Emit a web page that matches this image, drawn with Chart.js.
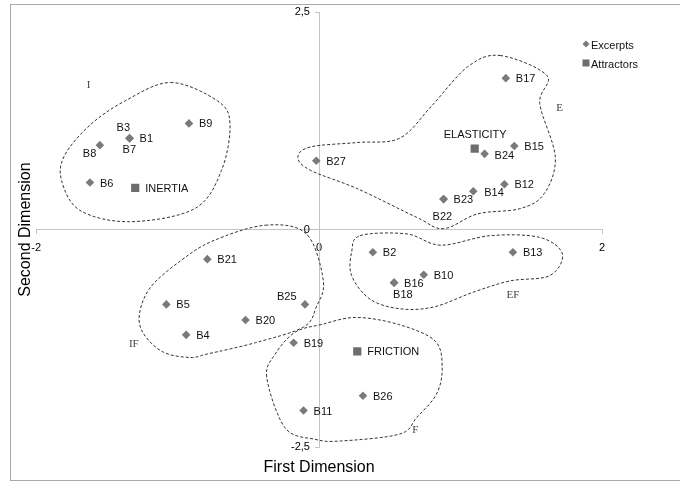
<!DOCTYPE html>
<html>
<head>
<meta charset="utf-8">
<script src="https://cdn.jsdelivr.net/npm/chart.js@4"></script>
<style>
  html, body { margin: 0; padding: 0; background: #fff; }
</style>
</head>
<body>
<canvas id="grafico" width="680" height="483"></canvas>
<script>
// Excerpts B1..B27 (coordenadas en las dos dimensiones)
var excerptNames = ["B1","B2","B3","B4","B5","B6","B7","B8","B9","B10","B11","B12","B13","B14",
                    "B15","B16","B17","B18","B19","B20","B21","B22","B23","B24","B25","B26","B27"];
var excerptX = [-1.34, 0.38, -1.34, -0.94, -1.08, -1.62, -1.34, -1.55, -0.92, 0.74, -0.11, 1.31, 1.37, 1.09,
                1.38, 0.53, 1.32, 0.53, -0.18, -0.52, -0.79, 0.88, 0.88, 1.17, -0.10, 0.31, -0.02];
var excerptY = [1.05, -0.26, 1.05, -1.21, -0.86, 0.54, 1.05, 0.97, 1.22, -0.52, -2.08, 0.52, -0.26, 0.44,
                0.96, -0.61, 1.74, -0.61, -1.30, -1.04, -0.34, 0.35, 0.35, 0.87, -0.86, -1.91, 0.79];

// Attractors
var attractorNames = ["INERTIA", "ELASTICITY", "FRICTION"];
var attractorX = [-1.30, 1.10, 0.27];
var attractorY = [0.48, 0.93, -1.40];

// Ticks de los ejes
var xTicks = [-2, 0, 2];
var yTicks = [-2.5, 0, 2.5];

// Grupos (contornos punteados), en unidades de los ejes
var groupNames = ["I", "E", "EF", "IF", "F"];
var groupOutlines = {
  I: [[-1.05, 1.69], [-0.72, 1.48], [-0.63, 1.22], [-0.69, 0.68], [-0.88, 0.24], [-1.34, 0.09],
      [-1.69, 0.22], [-1.82, 0.56], [-1.80, 0.85], [-1.62, 1.20], [-1.37, 1.48]],
  E: [[1.28, 2.00], [1.61, 1.77], [1.56, 1.45], [1.67, 0.83], [1.59, 0.41], [1.42, 0.24], [1.12, 0.18],
      [0.88, 0.01], [0.69, 0.14], [0.27, 0.47], [-0.06, 0.68], [-0.15, 0.83], [-0.06, 0.95],
      [0.27, 1.00], [0.57, 1.05], [0.79, 1.41], [1.05, 1.87]],
  EF: [[0.29, -0.07], [0.62, -0.05], [0.86, -0.18], [1.21, -0.07], [1.56, -0.09], [1.72, -0.28],
       [1.63, -0.53], [1.35, -0.59], [1.09, -0.72], [0.81, -0.89], [0.57, -0.91], [0.36, -0.80],
       [0.23, -0.53], [0.23, -0.26]],
  IF: [[-0.38, 0.05], [-0.09, -0.05], [0.03, -0.59], [-0.02, -0.89], [-0.11, -1.12], [-0.45, -1.30],
       [-0.79, -1.43], [-0.91, -1.47], [-1.10, -1.41], [-1.24, -1.20], [-1.27, -0.97], [-1.19, -0.66],
       [-0.98, -0.36], [-0.75, -0.13]],
  F: [[-0.17, -1.18], [0.02, -1.09], [0.26, -1.01], [0.56, -1.09], [0.82, -1.28], [0.87, -1.59],
      [0.83, -1.89], [0.69, -2.16], [0.57, -2.35], [0.15, -2.43], [-0.03, -2.41], [-0.24, -2.28],
      [-0.37, -1.70], [-0.31, -1.43]]
};
var groupLabelAt = { I: [-1.63, 1.66], E: [1.70, 1.39], EF: [1.37, -0.75], IF: [-1.31, -1.32], F: [0.68, -2.30] };

// Desplazamiento (px) de las etiquetas respecto al punto
var labelOffsets = {
  B3: [-13, -10], B7: [-7, 12], B8: [-17, 9], B22: [-11, 18], B18: [-1, 12],
  B25: [-28, -7], ELASTICITY: [-31, -14], B14: [11, 2], B24: [10, 2]
};

var fuente = '"Liberation Sans", Arial, sans-serif';
var colorExcerpt = '#7a7a7a';
var colorAttractor = '#6d6d6d';
var colorEje = '#c4c4c4';

Chart.defaults.font.family = fuente;

function puntos(xs, ys) {
  return xs.map(function(x, i) { return {x: x, y: ys[i]}; });
}
function coma(v) { return String(v).replace('.', ','); }

// Marco exterior
var pluginMarco = {
  id: 'marco',
  beforeDraw: function(chart) {
    var ctx = chart.ctx;
    ctx.save();
    ctx.strokeStyle = '#a9a9a9';
    ctx.lineWidth = 1;
    ctx.strokeRect(10.5, 4.5, 680, 476);
    ctx.restore();
  }
};

// Contornos de los grupos (curva cerrada suave) y letras
var pluginContornos = {
  id: 'contornos',
  beforeDatasetsDraw: function(chart) {
    var sx = chart.scales.x, sy = chart.scales.y, ctx = chart.ctx;
    ctx.save();
    ctx.setLineDash([3, 2]);
    ctx.strokeStyle = '#333';
    ctx.lineWidth = 1;
    groupNames.forEach(function(g) {
      var pts = groupOutlines[g].map(function(p) {
        return [sx.getPixelForValue(p[0]), sy.getPixelForValue(p[1])];
      });
      var n = pts.length;
      ctx.beginPath();
      ctx.moveTo(pts[0][0], pts[0][1]);
      for (var i = 0; i < n; i++) {
        var p0 = pts[(i - 1 + n) % n], p1 = pts[i], p2 = pts[(i + 1) % n], p3 = pts[(i + 2) % n];
        ctx.bezierCurveTo(p1[0] + (p2[0] - p0[0]) / 6, p1[1] + (p2[1] - p0[1]) / 6,
                          p2[0] - (p3[0] - p1[0]) / 6, p2[1] - (p3[1] - p1[1]) / 6,
                          p2[0], p2[1]);
      }
      ctx.closePath();
      ctx.stroke();
    });
    ctx.setLineDash([]);
    ctx.font = '11px "Liberation Serif", "Times New Roman", serif';
    ctx.fillStyle = '#444';
    ctx.textAlign = 'center';
    ctx.textBaseline = 'middle';
    groupNames.forEach(function(g) {
      var p = groupLabelAt[g];
      ctx.fillText(g, sx.getPixelForValue(p[0]), sy.getPixelForValue(p[1]));
    });
    ctx.restore();
  }
};

// Etiquetas de cada punto
var pluginEtiquetas = {
  id: 'etiquetas',
  afterDatasetsDraw: function(chart) {
    var ctx = chart.ctx;
    var nombres = [excerptNames, attractorNames];
    ctx.save();
    ctx.font = '11px ' + fuente;
    ctx.fillStyle = '#111';
    ctx.textAlign = 'left';
    ctx.textBaseline = 'middle';
    chart.data.datasets.forEach(function(ds, i) {
      var meta = chart.getDatasetMeta(i);
      meta.data.forEach(function(el, j) {
        var nom = nombres[i][j];
        var off = labelOffsets[nom] || [10, 1];
        ctx.fillText(nom, el.x + off[0], el.y + off[1]);
      });
    });
    ctx.restore();
  }
};

// Leyenda arriba a la derecha
var pluginLeyenda = {
  id: 'leyenda',
  afterDraw: function(chart) {
    var ctx = chart.ctx, area = chart.chartArea;
    var x = area.right - 16, y = area.top + 32;
    ctx.save();
    ctx.font = '11px ' + fuente;
    ctx.textAlign = 'left';
    ctx.textBaseline = 'middle';
    chart.data.datasets.forEach(function(ds, i) {
      var cy = y + i * 19;
      ctx.fillStyle = ds.backgroundColor;
      if (ds.pointStyle === 'rectRot') {
        ctx.beginPath();
        ctx.moveTo(x, cy - 3.5); ctx.lineTo(x + 3.5, cy); ctx.lineTo(x, cy + 3.5); ctx.lineTo(x - 3.5, cy);
        ctx.closePath();
        ctx.fill();
      } else {
        ctx.fillRect(x - 3.5, cy - 3.5, 7, 7);
      }
      ctx.fillStyle = '#111';
      ctx.fillText(ds.label, x + 5, cy + 1.5);
    });
    ctx.restore();
  }
};

var ejeComun = {
  type: 'linear',
  grid: { display: true, drawOnChartArea: false, drawTicks: true, tickLength: 4, color: colorEje },
  border: { display: true, color: colorEje, width: 1 },
  ticks: { font: { size: 11 }, color: '#000', maxRotation: 0 }
};

new Chart(document.getElementById('grafico'), {
  type: 'scatter',
  data: {
    datasets: [{
      label: 'Excerpts',
      data: puntos(excerptX, excerptY),
      pointStyle: 'rectRot',
      pointRadius: 4.3,
      backgroundColor: colorExcerpt,
      borderColor: colorExcerpt,
      borderWidth: 0
    }, {
      label: 'Attractors',
      data: puntos(attractorX, attractorY),
      pointStyle: 'rect',
      pointRadius: 5.8,
      backgroundColor: colorAttractor,
      borderColor: colorAttractor,
      borderWidth: 0
    }]
  },
  options: {
    responsive: false,
    animation: false,
    devicePixelRatio: 1,
    layout: { padding: { top: 12, right: 78, bottom: 4, left: 13 } },
    plugins: { legend: { display: false }, tooltip: { enabled: false } },
    scales: {
      x: Object.assign({}, ejeComun, {
        position: { y: 0 }, min: -2, max: 2,
        afterBuildTicks: function(s) { s.ticks = xTicks.map(function(v) { return {value: v}; }); },
        ticks: Object.assign({}, ejeComun.ticks, { padding: 8, callback: coma })
      }),
      y: Object.assign({}, ejeComun, {
        position: { x: 0 }, min: -2.5, max: 2.5,
        afterBuildTicks: function(s) { s.ticks = yTicks.map(function(v) { return {value: v}; }); },
        // el eje centrado no aplica padding: se separa la etiqueta con espacios
        ticks: Object.assign({}, ejeComun.ticks, { callback: function(v) { return coma(v) + '   '; } })
      }),
      x2: {
        type: 'linear', position: 'bottom', display: true,
        grid: { display: false, drawTicks: false }, border: { display: false },
        ticks: { display: false },
        title: { display: true, text: 'First Dimension', color: '#000', font: { size: 16 }, padding: { top: 10.7, bottom: 2 } }
      },
      y2: {
        type: 'linear', position: 'left', display: true,
        grid: { display: false, drawTicks: false }, border: { display: false },
        ticks: { display: false },
        title: { display: true, text: 'Second Dimension', color: '#000', font: { size: 16 }, padding: { top: 3, bottom: 1 } }
      }
    }
  },
  plugins: [pluginMarco, pluginContornos, pluginEtiquetas, pluginLeyenda]
});
</script>
</body>
</html>
